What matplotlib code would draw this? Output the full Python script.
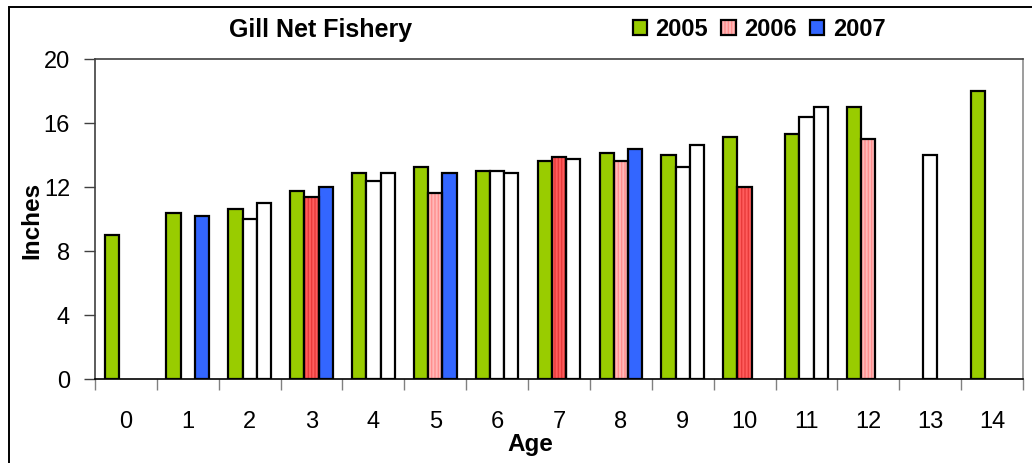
import matplotlib
matplotlib.use("Agg")
import matplotlib.pyplot as plt
import numpy as np
from matplotlib.patches import Patch, Rectangle
from matplotlib.legend_handler import HandlerTuple

plt.rcParams["font.family"] = ["Liberation Sans", "DejaVu Sans"]
plt.rcParams["hatch.linewidth"] = 1.0

ages = list(range(15))
nan = np.nan
len_2005 = [9.0, 10.4, 10.6, 11.75, 12.85, 13.25, 13.0, 13.6, 14.1, 14.0, 15.15, 15.3, 17.0, nan, 18.0]
len_2006 = [nan, nan, 10.0, 11.35, 12.35, 11.6, 13.0, 13.85, 13.6, 13.25, 12.0, 16.4, 15.0, 14.0, nan]
len_2007 = [nan, 10.2, 11.0, 12.0, 12.85, 12.85, 12.85, 13.75, 14.35, 14.65, nan, 17.0, nan, nan, nan]

# fill key for each 2006 / 2007 bar
fill_2006 = ["w", "w", "w", "red", "w", "pink", "w", "red", "pink", "w", "red", "w", "pink", "w", "w"]
fill_2007 = ["w", "blue", "w", "blue", "w", "blue", "w", "w", "blue", "w", "w", "w", "w", "w", "w"]

GREEN = "#99CC00"
BLUE = "#3366FF"
FILLS = {
    "w": ("white", None, None),
    "blue": (BLUE, None, None),
    "red": ("#FF5C5C", "|||||", "#E83A3A"),
    "pink": ("#FFB8B8", "|||||", "#FF8E8E"),
}

fig = plt.figure(figsize=(10.32, 4.64), dpi=100)
ax = fig.add_axes([95 / 1032, 1 - 380 / 464, 928 / 1032, 320 / 464])

x = np.arange(len(ages))
w = 0.23
EDGE_LW = 1.6

ax.bar(x - w, len_2005, w, color=GREEN, edgecolor="black", linewidth=EDGE_LW, zorder=3)


def draw_series(xpos, values, fills):
    for xi, v, key in zip(xpos, values, fills):
        if np.isnan(v):
            continue
        face, hatch, hcol = FILLS[key]
        if hatch:
            ax.bar(xi, v, w, color=face, hatch=hatch, edgecolor=hcol, linewidth=0, zorder=3)
            ax.bar(xi, v, w, fill=False, edgecolor="black", linewidth=EDGE_LW, zorder=4)
        else:
            ax.bar(xi, v, w, color=face, edgecolor="black", linewidth=EDGE_LW, zorder=3)


draw_series(x, len_2006, fill_2006)
draw_series(x + w, len_2007, fill_2007)

ax.set_xlim(-0.5, 14.5)
ax.set_ylim(0, 20)
ax.set_yticks([0, 4, 8, 12, 16, 20])
ax.tick_params(axis="y", labelsize=17, length=8, width=1, direction="out", pad=10, color="#404040")

# category boundaries get the tick marks, centres get the labels
ax.set_xticks(np.arange(-0.5, 15, 1))
ax.set_xticklabels([])
ax.set_xticks(x, minor=True)
ax.set_xticklabels([str(a) for a in ages], minor=True)
ax.tick_params(axis="x", which="major", length=8, width=1, color="#808080")
ax.tick_params(axis="x", which="minor", length=0, labelsize=17, pad=22)

ax.spines["bottom"].set_color("black")
ax.spines["left"].set_color("#404040")
ax.spines["top"].set_color("#404040")
ax.spines["right"].set_color("#8C8C8C")
for s in ax.spines.values():
    s.set_linewidth(1.2)

ax.set_ylabel("Inches", fontsize=17.5, fontweight="bold")
ax.yaxis.set_label_coords(-0.056, 0.5)
ax.set_xlabel("Age", fontsize=17.5, fontweight="bold")
ax.xaxis.set_label_coords(0.469, -0.166)

fig.text(321 / 1032, 1 - 30 / 464, "Gill Net Fishery", fontsize=18, fontweight="bold",
         ha="center", va="center")

h05 = Patch(facecolor=GREEN, edgecolor="black", linewidth=EDGE_LW)
h06 = (Patch(facecolor="#FFB8B8", hatch="|||||", edgecolor="#FF8E8E", linewidth=0),
       Patch(fill=False, edgecolor="black", linewidth=EDGE_LW))
h07 = Patch(facecolor=BLUE, edgecolor="black", linewidth=EDGE_LW)
fig.legend([h05, h06, h07], ["2005", "2006", "2007"],
           handler_map={tuple: HandlerTuple(ndivide=1, pad=0)},
           loc="center", bbox_to_anchor=(759 / 1032, 1 - 30 / 464), ncol=3, frameon=False,
           prop={"size": 17, "weight": "bold"}, handlelength=0.62, handleheight=0.62,
           handletextpad=0.35, columnspacing=0.55, borderpad=0)

# outer chart frame
fig.patches.append(Rectangle((9 / 1032, -0.2), 1.2, 1.2 - 8 / 464, transform=fig.transFigure,
                             fill=False, edgecolor="black", linewidth=1.4))

fig.savefig("out.png", dpi=100)
